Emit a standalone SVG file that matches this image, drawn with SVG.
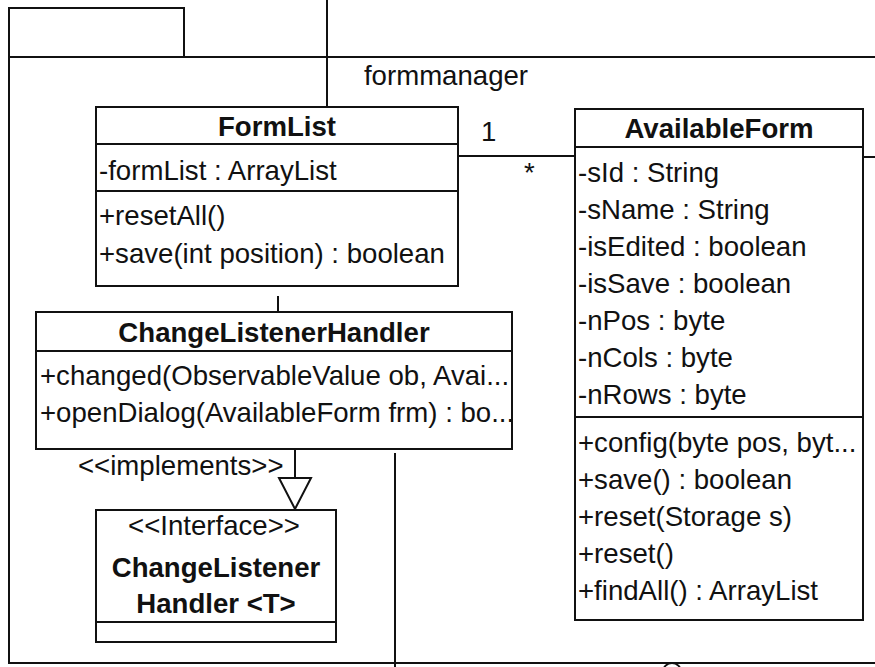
<svg xmlns="http://www.w3.org/2000/svg" width="875" height="667" viewBox="0 0 875 667">
<style>
.b{fill:#fff;stroke:#111;stroke-width:2}
.l{fill:none;stroke:#111;stroke-width:2}
text{font-family:"Liberation Sans",Arial,sans-serif;font-size:27.6px;fill:#111}
.t{font-weight:bold}
.c{text-anchor:middle}
</style>
<g id="package-formmanager">
<rect class="b" x="9" y="8" width="175" height="49"/>
<path class="l" d="M875 57 H9 V663 H875"/>
<text class="c" x="446" y="85">formmanager</text>
</g>
<g id="connectors">
<line class="l" x1="327" y1="0" x2="327" y2="107"/>
<line class="l" x1="458" y1="156" x2="575" y2="156"/>
<text x="481" y="141">1</text>
<text x="524" y="182">*</text>
<line class="l" x1="863" y1="157" x2="875" y2="157"/>
<line class="l" x1="278" y1="296" x2="278" y2="312"/>
<line class="l" x1="295" y1="450" x2="295" y2="478"/>
<path class="b" d="M279 478 H311 L295 509 Z"/>
<text x="78" y="475">&lt;&lt;implements&gt;&gt;</text>
<line class="l" x1="395" y1="453" x2="395" y2="667"/>
<path class="l" d="M663 672 A9 9 0 0 1 681 672"/>
</g>
<g id="FormList">
<rect class="b" x="96" y="107" width="362" height="179"/>
<line class="l" x1="96" y1="144" x2="458" y2="144"/>
<line class="l" x1="96" y1="191" x2="458" y2="191"/>
<text class="t c" x="277" y="136">FormList</text>
<text x="99" y="180">-formList : ArrayList</text>
<text x="99" y="225">+resetAll()</text>
<text x="99" y="263">+save(int position) : boolean</text>
</g>
<g id="AvailableForm">
<rect class="b" x="575" y="109" width="288" height="511"/>
<line class="l" x1="575" y1="147" x2="863" y2="147"/>
<line class="l" x1="575" y1="417" x2="863" y2="417"/>
<text class="t c" x="719" y="138">AvailableForm</text>
<text x="578" y="182">-sId : String</text>
<text x="578" y="219">-sName : String</text>
<text x="578" y="256">-isEdited : boolean</text>
<text x="578" y="293">-isSave : boolean</text>
<text x="578" y="330">-nPos : byte</text>
<text x="578" y="367">-nCols : byte</text>
<text x="578" y="404">-nRows : byte</text>
<text x="578" y="452">+config(byte pos, byt...</text>
<text x="578" y="489">+save() : boolean</text>
<text x="578" y="526">+reset(Storage s)</text>
<text x="578" y="563">+reset()</text>
<text x="578" y="600">+findAll() : ArrayList</text>
</g>
<g id="ChangeListenerHandler">
<rect class="b" x="36" y="312" width="476" height="137"/>
<line class="l" x1="36" y1="351" x2="512" y2="351"/>
<text class="t c" x="274" y="342">ChangeListenerHandler</text>
<text x="40" y="385">+changed(ObservableValue ob, Avai...</text>
<text x="40" y="422">+openDialog(AvailableForm frm) : bo...</text>
</g>
<g id="ChangeListenerHandlerT">
<rect class="b" x="96" y="510" width="240" height="132"/>
<line class="l" x1="96" y1="622" x2="336" y2="622"/>
<text class="c" x="214" y="535">&lt;&lt;Interface&gt;&gt;</text>
<text class="t c" x="216" y="577">ChangeListener</text>
<text class="t c" x="216" y="613">Handler &lt;T&gt;</text>
</g>
</svg>
